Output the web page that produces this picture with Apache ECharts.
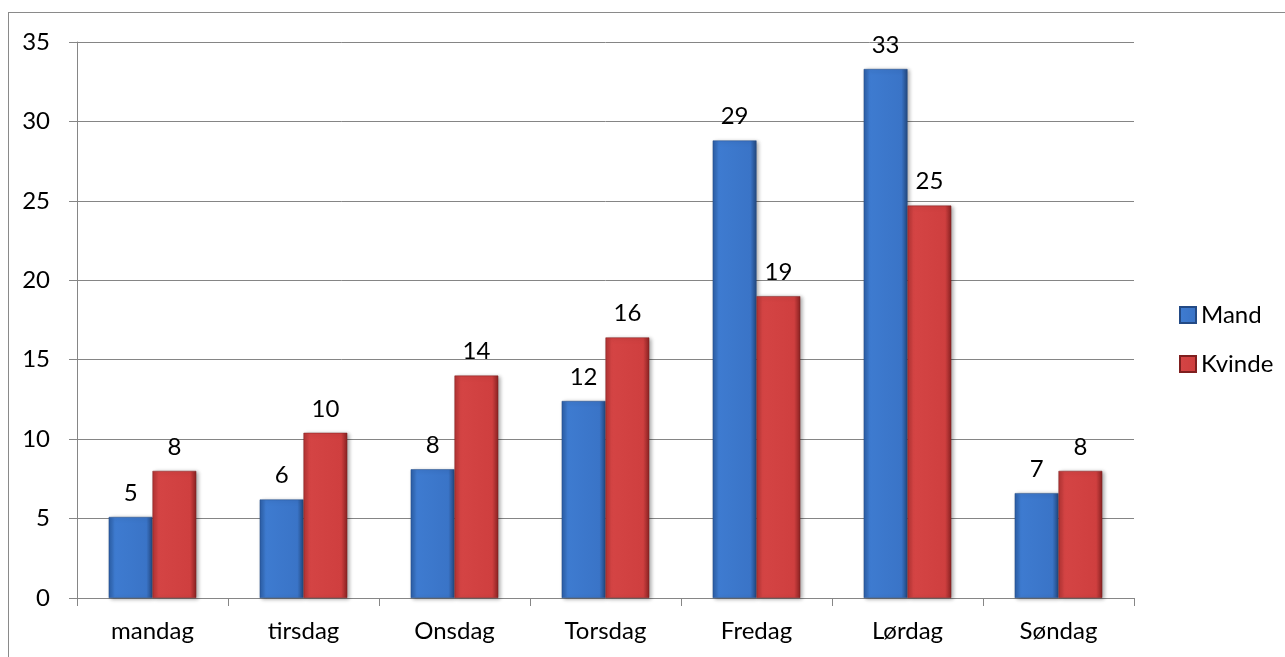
<!DOCTYPE html>
<html>
<head>
<meta charset="utf-8">
<script src="https://cdn.jsdelivr.net/npm/echarts@6/dist/echarts.min.js"></script>
<style>
html,body{margin:0;padding:0;background:#fff;overflow:hidden;}
#frame{position:absolute;left:8px;top:12px;width:1400px;height:700px;border:1px solid #8a8a8a;box-sizing:border-box;}
#chart{position:absolute;left:0;top:0;width:1285px;height:657px;}
</style>
</head>
<body>
<div id="frame"></div>
<div id="chart"></div>
<script>
const categories = ['mandag', 'tirsdag', 'Onsdag', 'Torsdag', 'Fredag', 'Lørdag', 'Søndag'];
const mand = [5.1, 6.2, 8.1, 12.4, 28.8, 33.3, 6.6];
const kvinde = [8.0, 10.4, 14.0, 16.4, 19.0, 24.7, 8.0];
const seriesNames = ['Mand', 'Kvinde'];
const yTicks = [0, 5, 10, 15, 20, 25, 30, 35];

const FONT = 'Lato';
const FS = 24;

function grad(edgeL, mid1, mid2, edgeR) {
  return new echarts.graphic.LinearGradient(0, 0, 1, 0, [
    {offset: 0, color: edgeL},
    {offset: 0.14, color: mid1},
    {offset: 0.86, color: mid2},
    {offset: 1, color: edgeR}
  ]);
}
const blueFill = grad('#2c5ea6', '#3e7bd0', '#3a74c7', '#23487f');
const redFill = grad('#b43434', '#d44444', '#cf3f3f', '#8a2323');

const chart = echarts.init(document.getElementById('chart'), null, {renderer: 'canvas'});
const labelCfg = {
  show: true, position: 'top', distance: 12,
  fontFamily: FONT, fontSize: FS, color: '#000',
  formatter: p => Math.round(p.value)
};
chart.setOption({
  animation: false,
  textStyle: {fontFamily: FONT},
  grid: {left: 77, right: 151, top: 42, bottom: 59, containLabel: false},
  legend: {
    orient: 'vertical', left: 1174, top: 298, itemWidth: 16, itemHeight: 16, itemGap: 25,
    icon: 'rect',
    textStyle: {fontFamily: FONT, fontSize: FS, color: '#000'},
    data: seriesNames
  },
  xAxis: {
    type: 'category', data: categories,
    axisLine: {lineStyle: {color: '#868686', width: 1}},
    axisTick: {show: true, length: 8, alignWithLabel: false, lineStyle: {color: '#868686'}},
    axisLabel: {fontFamily: FONT, fontSize: FS, color: '#000', margin: 21}
  },
  yAxis: {
    type: 'value', min: yTicks[0], max: yTicks[yTicks.length - 1], interval: yTicks[1] - yTicks[0],
    axisLine: {show: true, lineStyle: {color: '#868686'}},
    axisTick: {show: true, length: 8, lineStyle: {color: '#868686'}},
    axisLabel: {fontFamily: FONT, fontSize: FS, color: '#000', margin: 27},
    splitLine: {show: true, lineStyle: {color: '#858585', width: 1}}
  },
  series: [
    {
      name: seriesNames[0], type: 'bar', data: mand, barWidth: '29%', barGap: '0%',
      itemStyle: {color: blueFill, borderColor: '#234a85', borderWidth: 0.5,
        shadowColor: 'rgba(0,0,0,0.35)', shadowBlur: 4, shadowOffsetX: 2, shadowOffsetY: 1},
      label: labelCfg
    },
    {
      name: seriesNames[1], type: 'bar', data: kvinde, barWidth: '29%', barGap: '0%',
      itemStyle: {color: redFill, borderColor: '#7f1f1f', borderWidth: 0.5,
        shadowColor: 'rgba(0,0,0,0.35)', shadowBlur: 4, shadowOffsetX: 2, shadowOffsetY: 1},
      label: labelCfg
    }
  ]
});
</script>
</body>
</html>
